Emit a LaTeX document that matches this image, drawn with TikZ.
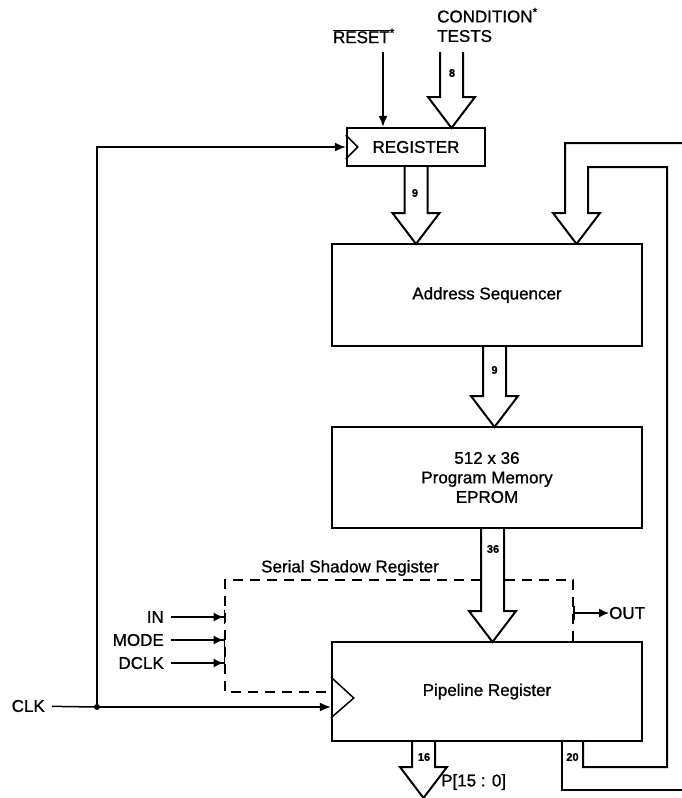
\documentclass[tikz,border=0pt]{standalone}
\usepackage{fontspec}
\setmainfont[FakeBold=1]{Liberation Sans}
\usetikzlibrary{arrows.meta}
\usetikzlibrary{calc}
\pgfdeclarelayer{edgelayer}
\pgfdeclarelayer{nodelayer}
\pgfsetlayers{edgelayer,nodelayer,main}
\tikzstyle{none}=[inner sep=0pt]
\tikzstyle{block}=[rectangle,draw=black,fill=white,line width=2.4pt,inner sep=0pt]
\tikzstyle{simple}=[-,draw=black,line width=1.5pt]
\tikzstyle{signal}=[-{Latex[length=11pt,width=9pt]},draw=black,line width=1.5pt]
\tikzstyle{pinin}=[-{Latex[length=10pt,width=9pt]Bar[width=14pt]},draw=black,line width=1.5pt]
\tikzstyle{pinout}=[{Bar[width=14pt]}-{Latex[length=10pt,width=9pt]},draw=black,line width=1.5pt]
\tikzstyle{pinlabel}=[inner xsep=7pt,inner ysep=0pt]
\tikzstyle{bus}=[draw=black,fill=white,line width=2pt,line join=miter]
\tikzstyle{shadowreg}=[draw=black,line width=1.5pt,dash pattern=on 10pt off 7pt]
\tikzstyle{count}=[inner sep=0pt,font=\fontsize{11}{11}\selectfont\bfseries]

% fat bus arrow, pointing down: #1 = where it starts, #2 = its tip
\newcommand{\busdown}[2]{%
	\draw [style=bus] ($(#2 |- #1)+(-11.5,0)$) -- ($(#2)+(-11.5,-31)$) -- ($(#2)+(-23.5,-31)$) -- (#2)
		-- ($(#2)+(23.5,-31)$) -- ($(#2)+(11.5,-31)$) -- ($(#2 |- #1)+(11.5,0)$);}

\begin{document}
\begin{tikzpicture}[x=1pt,y=-1pt,font=\fontsize{17}{19.5}\selectfont]
	\useasboundingbox (0,0) rectangle (682,798);
	\clip (0,0) rectangle (682,798);
	\begin{pgfonlayer}{nodelayer}
		\node [style=block, minimum width=138pt, minimum height=38pt] (reg) at (416, 147) {REGISTER};
		\node [style=block, minimum width=310pt, minimum height=102pt] (seq) at (487, 295) {Address Sequencer};
		\node [style=block, minimum width=310pt, minimum height=101pt, align=center] (mem) at (487, 477.5) {512 x 36\\Program Memory\\EPROM};
		\node [style=block, minimum width=310pt, minimum height=99pt] (pipe) at (487, 691.5) {Pipeline Register};
		\node [style=none] (rst) at (364, 36) {$\overline{\hbox{RESET}}$\textsuperscript{*}};
		\node [style=none, anchor=west, align=left] (cond) at (437, 25) {CONDITION\textsuperscript{*}\\TESTS};
		\node [style=pinlabel, anchor=east] (clk) at (52, 706) {CLK};
		\node [style=pinlabel, anchor=east] (in) at (171, 617) {IN};
		\node [style=pinlabel, anchor=east] (mode) at (171, 640) {MODE};
		\node [style=pinlabel, anchor=east] (dclk) at (171, 663) {DCLK};
		\node [style=none, anchor=west] (out) at (609, 613) {OUT};
		\node [style=none] (ssrlabel) at (350, 568) {Serial Shadow Register};
		\node [style=none, anchor=west] (pout) at (441, 782) {P[15 : 0]};
		\coordinate (dot) at (97, 707);
		\coordinate (rsttop) at (383, 52);
		\coordinate (condtop) at (451.5, 52);
		\coordinate (condtip) at (451.5, 128);
		\coordinate (seqtip) at (416, 244);
		\coordinate (memtip) at (494.5, 427);
		\coordinate (pipetip) at (492.5, 642);
		\coordinate (ptip) at (423.5, 798);
		\coordinate (fbtip) at (576.5, 244);
		\coordinate (ssr-ne) at (573, 580);
		\coordinate (ssr-nw) at (225, 580);
		\coordinate (ssr-sw) at (225, 692);
	\end{pgfonlayer}
	\begin{pgfonlayer}{edgelayer}
		\draw [style=shadowreg] (ssr-ne |- pipe.north) -- (ssr-ne) -- (ssr-nw) -- (ssr-sw) -- (ssr-sw -| pipe.west);
		\draw [style=simple] (clk) -- (dot);
		\draw [style=signal] (dot) -- (dot -| pipe.west);
		\draw [style=signal] (dot) |- (reg.west);
		\draw [style=signal] (rsttop) -- (rsttop |- reg.north);
		\draw [style=pinin] (in) -- (in -| ssr-nw);
		\draw [style=pinin] (mode) -- (mode -| ssr-nw);
		\draw [style=pinin] (dclk) -- (dclk -| ssr-nw);
		\draw [style=pinout] (out -| ssr-ne) -- (out);
		% feedback bus, back into the sequencer
		\draw [style=bus, fill=none] (700, 143) -- (565, 143) -- (565, 213) -- (553, 213) -- (fbtip) -- (600, 213)
			-- (588, 213) -- (588, 167) -- (667, 167) -- (667, 767) -- (583, 767) -- (583, 741);
		\draw [style=bus, fill=none] (562, 741) -- (562, 790) -- (700, 790);
	\end{pgfonlayer}
	\busdown{condtop}{condtip}
	\busdown{reg.south}{seqtip}
	\busdown{seq.south}{memtip}
	\busdown{mem.south}{pipetip}
	\busdown{pipe.south}{ptip}
	\draw [style=simple] ($(reg.west)+(0,-12)$) -- ($(reg.west)+(12,0)$) -- ($(reg.west)+(0,12)$);
	\draw [style=simple] ($(pipe.west)+(0,-14.5)$) -- ($(pipe.west)+(23,6.5)$) -- ($(pipe.west)+(0,26.5)$);
	\fill (dot) circle (3pt);
	\node [style=count] at (452, 73) {8};
	\node [style=count] at (415, 193) {9};
	\node [style=count] at (494.5, 370) {9};
	\node [style=count] at (493, 549) {36};
	\node [style=count] at (424, 757) {16};
	\node [style=count] at (572.5, 757) {20};
\end{tikzpicture}
\end{document}
